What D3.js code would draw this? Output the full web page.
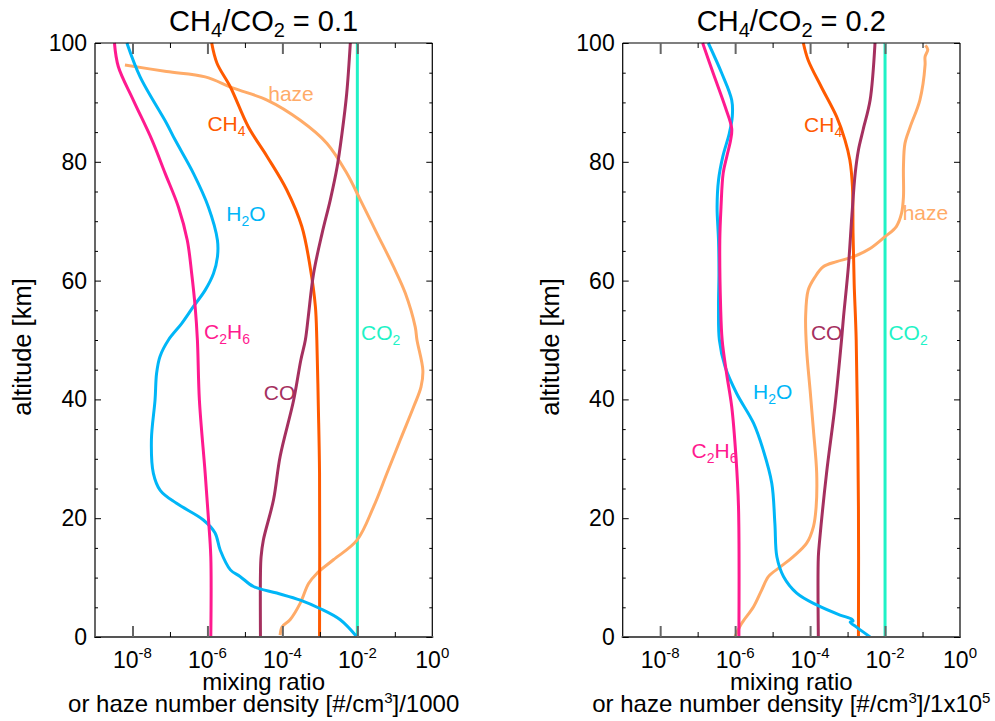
<!DOCTYPE html>
<meta charset="utf-8">
<style>

body {
  margin: 0;
  background: #fff;
}

text {
  font-family: "Liberation Sans", Arial, Helvetica, sans-serif;
}

.axis path {
  display: none;
}

</style>
<svg width="995" height="721"></svg>
<script src="https://d3js.org/d3.v7.min.js"></script>
<script>

// ticks
var altMajor = [0, 20, 40, 60, 80, 100],
    altMinor = [5, 10, 15, 25, 30, 35, 45, 50, 55, 65, 70, 75, 85, 90, 95],
    decadeMajor = [1e-8, 1e-6, 1e-4, 1e-2],
    decadeMinor = [1e-7, 1e-5, 1e-3, 1e-1],
    decadeLabels = [[1e-8, "-8"], [1e-6, "-6"], [1e-4, "-4"], [1e-2, "-2"], [1e0, "0"]];

// profiles, CH4/CO2 = 0.1  ([mixing ratio, altitude km])
var co2_01 = [[1e-2, 100], [1e-2, 0]];
var ch4_01 = [[1.3e-6, 100], [1.8e-6, 96.6], [4.1e-6, 92.6], [1.23e-5, 85.9], [3.9e-5, 80.9],
  [1.3e-4, 75.3], [3.3e-4, 69.1], [5.5e-4, 62.3], [7.6e-4, 55.6], [8.3e-4, 50], [9.1e-4, 38.8],
  [9.8e-4, 27.6], [9.8e-4, 0]];
var co_01 = [[6.5e-3, 100], [5.2e-3, 91.5], [3.9e-3, 84.8], [2.9e-3, 79.2], [1.9e-3, 73.6],
  [1.15e-3, 68], [6.8e-4, 61.2], [4.9e-4, 53.9], [4.1e-4, 50], [3.1e-4, 46.6], [2.0e-4, 39.9],
  [8.7e-5, 30.4], [5.8e-5, 23.1], [3.1e-5, 16.3], [2.7e-5, 13.5], [2.6e-5, 10.7], [2.6e-5, 0]];
var h2o_01 = [[7.1e-9, 100], [1.6e-8, 94.3], [8.1e-8, 86.5], [1.37e-7, 83.7], [4.2e-7, 78.1],
  [1.06e-6, 72.4], [1.85e-6, 66.8], [1.85e-6, 64], [1.45e-6, 61.2], [8.7e-7, 58.4], [4.2e-7, 55.6],
  [2.07e-7, 52.8], [9.1e-8, 50], [5.4e-8, 47.2], [4.4e-8, 44.4], [4.0e-8, 39.9], [3.2e-8, 33.2],
  [3.6e-8, 27.6], [5.5e-8, 24.7], [1.5e-7, 22.5], [7.8e-7, 19.7], [1.6e-6, 17.5], [2.2e-6, 14.6],
  [4.1e-6, 11.3], [7.4e-6, 10.2], [1.7e-5, 8.5], [7.1e-5, 7.4], [3.0e-4, 6.2], [1.0e-3, 4.8],
  [3.5e-3, 2.9], [9.8e-3, 0]];
var c2h6_01 = [[3.3e-9, 100], [4.2e-9, 96], [1.05e-8, 90.4], [3.3e-8, 83.7], [7.4e-8, 78.1],
  [1.68e-7, 72.4], [2.9e-7, 66.8], [3.8e-7, 61.2], [4.7e-7, 55.6], [5.4e-7, 50], [6.1e-7, 39.9],
  [8.7e-7, 27.6], [1.07e-6, 19.7], [1.23e-6, 13.5], [1.23e-6, 0]];
var haze_01 = [[6.3e-9, 96.3], [8.1e-8, 95.2], [8.7e-7, 94.3], [4.9e-6, 92.4], [3.9e-5, 90.4],
  [3.0e-4, 87], [1.55e-3, 83.1], [5.2e-3, 78.1], [1.2e-2, 73.6], [3.3e-2, 68], [9.3e-2, 62.3],
  [0.19, 57.9], [0.35, 52.2], [0.39, 50], [0.56, 44.9], [0.50, 42.1], [0.32, 38.8], [0.14, 33.2],
  [6.2e-2, 27.6], [2.7e-2, 21.9], [9.8e-3, 16.3], [2.3e-3, 13], [8.3e-4, 10.7], [5.0e-4, 9],
  [3.0e-4, 5.7], [1.6e-4, 2.9], [9.8e-5, 1.7], [8.7e-5, 0.3]];

// profiles, CH4/CO2 = 0.2
var co2_02 = [[1e-2, 100], [1e-2, 0]];
var ch4_02 = [[6.6e-5, 100], [8.9e-5, 97.1], [2.0e-4, 92.6], [5.1e-4, 87.6], [8.5e-4, 83.7],
  [1.15e-3, 80.3], [1.35e-3, 75.8], [1.4e-3, 68], [1.5e-3, 59.5], [1.7e-3, 50], [1.95e-3, 22],
  [1.95e-3, 0]];
var co_02 = [[5.4e-3, 100], [4.0e-3, 90.4], [2.6e-3, 85.4], [1.95e-3, 82], [1.6e-3, 78.1],
  [1.3e-3, 70.8], [1.05e-3, 62.3], [7.8e-4, 53.9], [6.9e-4, 50], [4.6e-4, 38.8], [2.75e-4, 27.6],
  [1.8e-4, 16.3], [1.66e-4, 13.5], [1.66e-4, 0]];
var h2o_02 = [[1.92e-7, 100], [4.4e-7, 94.9], [8.1e-7, 90.4], [8.4e-7, 87.6], [7.0e-7, 84.8],
  [4.7e-7, 80.9], [3.6e-7, 76.9], [3.3e-7, 72.4], [3.6e-7, 66.8], [3.7e-7, 61.2], [3.6e-7, 55.6],
  [3.8e-7, 50], [5.4e-7, 45.5], [1.1e-6, 41], [3.1e-6, 36], [5.6e-6, 31.5], [9.5e-6, 25.9],
  [1.15e-5, 19.1], [1.3e-5, 13.5], [1.95e-5, 10.2], [4.4e-5, 7.4], [1.5e-4, 5.4], [6.3e-4, 3.7],
  [1.3e-3, 3.0], [1.4e-3, 2.7], [1.17e-3, 2.5], [1.7e-3, 1.7], [4.0e-3, 0]];
var c2h6_02 = [[1.36e-7, 100], [2.6e-7, 94.9], [5.4e-7, 89.3], [8.1e-7, 85.6], [7.6e-7, 83.7],
  [6.0e-7, 80.9], [4.8e-7, 78.1], [4.2e-7, 72.4], [3.9e-7, 66.8], [4.1e-7, 55.6], [4.5e-7, 50],
  [5.9e-7, 44.4], [8.1e-7, 38.8], [1.05e-6, 30.4], [1.23e-6, 21.9], [1.26e-6, 0]];
var haze_02 = [[0.12, 99.6], [0.138, 98.9], [0.117, 97.7], [0.117, 96.3], [8.5e-2, 90.4],
  [4.7e-2, 85.9], [3.4e-2, 83.1], [3.1e-2, 79.2], [3.1e-2, 74.1], [2.75e-2, 71.3], [2.0e-2, 69.1],
  [1.0e-2, 67.4], [4.0e-3, 65.4], [1.4e-3, 64], [5.1e-4, 63.2], [2.2e-4, 62.3], [1.35e-4, 60.6],
  [8.9e-5, 58.4], [7.6e-5, 53.9], [8.1e-5, 48.3], [1.0e-4, 41.6], [1.23e-4, 34.8], [1.5e-4, 27.6],
  [1.45e-4, 21.9], [1.23e-4, 18.6], [8.1e-5, 15.8], [3.5e-5, 13.5], [1.6e-5, 11.8], [7.8e-6, 10.2],
  [5.1e-6, 7.9], [3.1e-6, 5.1], [1.5e-6, 2.3], [9.8e-7, 0]];

var colors = {
  co2: "#1ff2c6",
  ch4: "#ff5a00",
  co: "#a5305f",
  h2o: "#00b6f7",
  c2h6: "#ff1a8f",
  haze: "#ffab68"
};

// species names as [text, isSubscript] pieces
var names = {
  co2: [["CO", 0], ["2", 1]],
  ch4: [["CH", 0], ["4", 1]],
  co: [["CO", 0]],
  h2o: [["H", 0], ["2", 1], ["O", 0]],
  c2h6: [["C", 0], ["2", 1], ["H", 0], ["6", 1]],
  haze: [["haze", 0]]
};

var panels = [
  {
    left: 95, ratio: "0.1", unit: "1000", unitExp: "",
    series: {co2: co2_01, ch4: ch4_01, co: co_01, h2o: h2o_01, c2h6: c2h6_01, haze: haze_01},
    labels: {haze: [4.2e-5, 90.2], ch4: [1e-6, 85.2], h2o: [3.2e-6, 70.1], c2h6: [8.1e-7, 50.2],
             co2: [1.26e-2, 50], co: [3.2e-5, 39.9]}
  },
  {
    left: 622.7, ratio: "0.2", unit: "1x10", unitExp: "5",
    series: {co2: co2_02, ch4: ch4_02, co: co_02, h2o: h2o_02, c2h6: c2h6_02, haze: haze_02},
    labels: {ch4: [6.9e-5, 85.1], haze: [2.95e-2, 70.2], co: [1.05e-4, 50], co2: [1.23e-2, 50],
             h2o: [3.0e-6, 40.1], c2h6: [6.9e-8, 30.1]}
  }
];

var svg = d3.select("svg"),
    plotTop = 43,
    plotBottom = 637,
    plotW = 337.3;

var drawOrder = ["co2", "haze", "ch4", "co", "h2o", "c2h6"];

panels.forEach(function(p) {
  var x = d3.scaleLog().domain([1e-9, 1]).range([p.left, p.left + plotW]),
      y = d3.scaleLinear().domain([0, 100]).range([plotBottom, plotTop]),
      cx = p.left + plotW / 2;

  var g = svg.append("g");

  var line = d3.line()
      .x(function(d) { return x(d[0]); })
      .y(function(d) { return y(d[1]); })
      .curve(d3.curveCatmullRom.alpha(0.5));

  drawOrder.forEach(function(k) {
    g.append("path")
        .attr("d", line(p.series[k]))
        .attr("fill", "none")
        .attr("stroke", colors[k])
        .attr("stroke-width", 3)
        .attr("stroke-linejoin", "round");
  });

  // curve labels
  Object.keys(p.labels).forEach(function(k) {
    var t = g.append("text")
        .attr("x", x(p.labels[k][0]))
        .attr("y", y(p.labels[k][1]))
        .attr("fill", colors[k])
        .style("font-size", "21px");
    var shift = 0;
    names[k].forEach(function(part) {
      var target = part[1] ? 5 : 0;
      var ts = t.append("tspan").attr("dy", target - shift).text(part[0]);
      if (part[1]) ts.style("font-size", "14px");
      shift = target;
    });
  });

  // frame
  g.append("line").attr("x1", p.left).attr("x2", p.left + plotW).attr("y1", plotTop).attr("y2", plotTop)
      .attr("stroke", "#000").attr("stroke-width", 1.2);
  g.append("line").attr("x1", p.left).attr("x2", p.left).attr("y1", plotTop).attr("y2", plotBottom)
      .attr("stroke", "#000").attr("stroke-width", 1.2);
  g.append("line").attr("x1", p.left + plotW).attr("x2", p.left + plotW).attr("y1", plotTop).attr("y2", plotBottom)
      .attr("stroke", "#000").attr("stroke-width", 1.2);
  g.append("line").attr("x1", p.left - 1).attr("x2", p.left + plotW + 1).attr("y1", plotBottom).attr("y2", plotBottom)
      .attr("stroke", "#555").attr("stroke-width", 2);

  // x ticks, bottom and top
  g.append("g").attr("class", "axis major")
      .attr("transform", "translate(0," + plotBottom + ")")
      .call(d3.axisBottom(x).tickValues(decadeMajor).tickSize(-11).tickFormat(""));
  g.append("g").attr("class", "axis minor")
      .attr("transform", "translate(0," + plotBottom + ")")
      .call(d3.axisBottom(x).tickValues(decadeMinor).tickSize(-5).tickFormat(""));
  g.append("g").attr("class", "axis major")
      .attr("transform", "translate(0," + plotTop + ")")
      .call(d3.axisTop(x).tickValues(decadeMajor).tickSize(-11).tickFormat(""));
  g.append("g").attr("class", "axis minor")
      .attr("transform", "translate(0," + plotTop + ")")
      .call(d3.axisTop(x).tickValues(decadeMinor).tickSize(-5).tickFormat(""));

  // y ticks, left and right
  g.append("g").attr("class", "axis ymajor")
      .attr("transform", "translate(" + p.left + ",0)")
      .call(d3.axisLeft(y).tickValues(altMajor).tickSize(-6).tickFormat(""));
  g.append("g").attr("class", "axis yminor")
      .attr("transform", "translate(" + p.left + ",0)")
      .call(d3.axisLeft(y).tickValues(altMinor).tickSize(-3).tickFormat(""));
  g.append("g").attr("class", "axis ymajor")
      .attr("transform", "translate(" + (p.left + plotW) + ",0)")
      .call(d3.axisRight(y).tickValues(altMajor).tickSize(-6).tickFormat(""));
  g.append("g").attr("class", "axis yminor")
      .attr("transform", "translate(" + (p.left + plotW) + ",0)")
      .call(d3.axisRight(y).tickValues(altMinor).tickSize(-3).tickFormat(""));

  g.selectAll(".major .tick line").attr("stroke", "#666").attr("stroke-width", 2);
  g.selectAll(".minor .tick line, .ymajor .tick line, .yminor .tick line").attr("stroke", "#000").attr("stroke-width", 1);

  // x tick labels
  decadeLabels.forEach(function(d) {
    var t = g.append("text")
        .attr("x", x(d[0]))
        .attr("y", plotBottom + 31)
        .attr("text-anchor", "middle")
        .style("font-size", "23px");
    t.append("tspan").text("10");
    t.append("tspan").attr("dy", -10).style("font-size", "15px").text(d[1]);
  });

  // y tick labels
  altMajor.forEach(function(v) {
    g.append("text")
        .attr("x", p.left - 8)
        .attr("y", y(v) + 8)
        .attr("text-anchor", "end")
        .style("font-size", "23px")
        .text(v);
  });

  // title
  var title = g.append("text")
      .attr("x", cx)
      .attr("y", 31)
      .attr("text-anchor", "middle")
      .style("font-size", "29px");
  title.append("tspan").text("CH");
  title.append("tspan").attr("dy", 6).style("font-size", "20px").text("4");
  title.append("tspan").attr("dy", -6).text("/CO");
  title.append("tspan").attr("dy", 6).style("font-size", "20px").text("2");
  title.append("tspan").attr("dy", -6).text(" = " + p.ratio);

  // axis titles
  g.append("text")
      .attr("transform", "translate(" + (p.left - 64) + ",347) rotate(-90)")
      .attr("text-anchor", "middle")
      .style("font-size", "25.5px")
      .text("altitude [km]");

  g.append("text")
      .attr("x", cx)
      .attr("y", 690)
      .attr("text-anchor", "middle")
      .style("font-size", "24px")
      .text("mixing ratio");

  var xt = g.append("text")
      .attr("x", cx)
      .attr("y", 712)
      .attr("text-anchor", "middle")
      .style("font-size", "24px");
  xt.append("tspan").text("or haze number density [#/cm");
  xt.append("tspan").attr("dy", -9).style("font-size", "15px").text("3");
  xt.append("tspan").attr("dy", 9).text("]/" + p.unit);
  if (p.unitExp) xt.append("tspan").attr("dy", -9).style("font-size", "15px").text(p.unitExp);
});

</script>
